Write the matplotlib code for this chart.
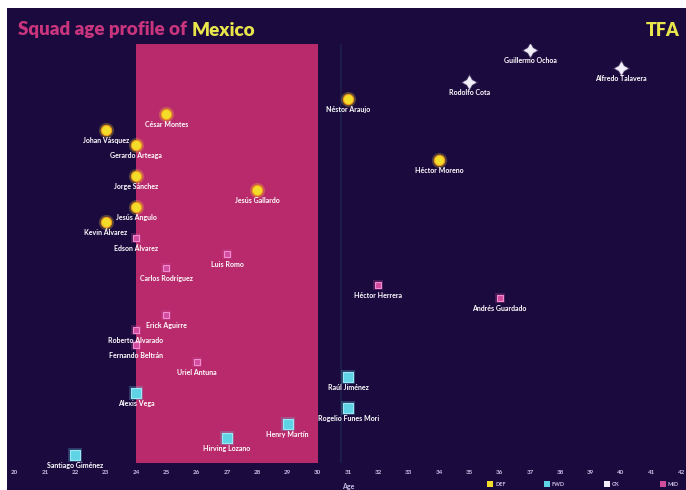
import matplotlib.pyplot as plt
from matplotlib.patches import Rectangle

# squad data: age (years) and share of minutes played (%)
gk_names = ["Guillermo Ochoa", "Alfredo Talavera", "Rodolfo Cota"]
gk_age = [37.0, 40.0, 35.0]
gk_mins = [98.6, 94.3, 90.9]

def_names = ["Néstor Araujo", "Héctor Moreno", "César Montes", "Johan Vásquez",
             "Gerardo Arteaga", "Jorge Sánchez", "Jesús Gallardo", "Jesús Angulo",
             "Kevin Álvarez"]
def_age = [31.0, 34.0, 25.0, 23.0, 24.0, 24.0, 28.0, 24.0, 23.0]
def_mins = [86.9, 72.3, 83.3, 79.5, 75.9, 68.5, 65.2, 61.1, 57.5]

mid_names = ["Edson Álvarez", "Luis Romo", "Carlos Rodríguez", "Héctor Herrera",
             "Andrés Guardado", "Erick Aguirre", "Roberto Alvarado",
             "Fernando Beltrán", "Uriel Antuna"]
mid_age = [24.0, 27.0, 25.0, 32.0, 36.0, 25.0, 24.0, 24.0, 26.0]
mid_mins = [53.7, 49.9, 46.5, 42.5, 39.4, 35.3, 31.7, 28.1, 24.1]

fwd_names = ["Raúl Jiménez", "Rogelio Funes Mori", "Henry Martín",
             "Hirving Lozano", "Alexis Vega", "Santiago Giménez"]
fwd_age = [31.0, 31.0, 29.0, 27.0, 24.0, 22.0]
fwd_mins = [20.5, 13.1, 9.3, 6.0, 16.7, 1.9]

age_ticks = list(range(20, 43))
peak_start, peak_end = 24, 30

legend_labels = ["DEF", "FWD", "GK", "MID"]

BG = "#1b0a3e"
PINK = "#b82a6c"
YELLOW = "#f3dc2a"
CYAN = "#5fd3e6"
MAGENTA = "#d24c9e"
WHITE = "#f2eefa"

plt.rcParams["font.family"] = ["Lato", "DejaVu Sans"]

fig = plt.figure(figsize=(6.86, 4.9), dpi=100, facecolor="white")
fig.patches.append(Rectangle((7 / 686, 0), 1, 482 / 490, transform=fig.transFigure,
                             facecolor=BG, edgecolor="none", zorder=-5))

ax = fig.add_axes([10 / 686, 27 / 490, 676 / 686, 419 / 490])
ax.set_facecolor("none")
ax.set_xlim(19.84, 42.15)
ax.set_ylim(0, 100)

ax.axvspan(peak_start, peak_end, color=PINK, zorder=1, lw=0)
ax.axvline(30.75, color="#22305c", lw=1.5, alpha=0.45, zorder=1)
ax.axhline(0, color="#9a8fc0", lw=0.7, ls=(0, (2, 1.5)), zorder=2)


def draw_group(ages, mins, names, marker, color, size, edge):
    ax.scatter(ages, mins, s=size * 2.2, marker=marker, color=color, alpha=0.25,
               lw=0, zorder=3)
    ax.scatter(ages, mins, s=size, marker=marker, color=color, edgecolors=edge,
               linewidths=0.8, zorder=4)
    for a, m, n in zip(ages, mins, names):
        ax.text(a, m - 2.5, n, color="white", fontsize=5, fontweight="bold",
                ha="center", va="center", zorder=5)


draw_group(gk_age, gk_mins, gk_names, (4, 1, 0), WHITE, 70, WHITE)
draw_group(def_age, def_mins, def_names, "o", YELLOW, 55, "#f39a1c")
draw_group(mid_age, mid_mins, mid_names, "s", MAGENTA, 24, "#f08ccf")
draw_group(fwd_age, fwd_mins, fwd_names, "s", CYAN, 48, "#9be8f4")

ax.set_xticks(age_ticks)
ax.set_xticklabels([str(t) for t in age_ticks], fontsize=4.5, color="#c9c0e6",
                   fontweight="bold")
ax.tick_params(axis="x", length=0, pad=5)
ax.set_yticks([])
for s in ax.spines.values():
    s.set_visible(False)
ax.set_xlabel("Age", fontsize=5, color="#c9c0e6", fontweight="bold", labelpad=6)

# legend row along the bottom right
for lx, lab, col in zip([490, 547, 607, 663], legend_labels,
                        [YELLOW, CYAN, WHITE, MAGENTA]):
    fig.patches.append(Rectangle(((lx - 3) / 686, 3 / 490), 6 / 686, 6 / 490,
                                 transform=fig.transFigure, facecolor=col,
                                 edgecolor="none"))
    fig.text((lx + 5) / 686, 6 / 490, lab, color="#c9c0e6", fontsize=4,
             fontweight="bold", va="center", ha="left")

t1 = fig.text(18 / 686, 460 / 490, "Squad age profile of ", color="#c8357c",
              fontsize=13.5, fontweight="heavy", va="center", ha="left")
fig.canvas.draw()
bb = t1.get_window_extent()
fig.text(bb.x1 / fig.bbox.width, 460 / 490, "Mexico", color="#e9e64c",
         fontsize=13.5, fontweight="heavy", va="center", ha="left")
fig.text(680 / 686, 460 / 490, "TFA", color="#e9e64c", fontsize=13,
         fontweight="heavy", va="center", ha="right")

fig.savefig("out.png", dpi=100, facecolor="white")
